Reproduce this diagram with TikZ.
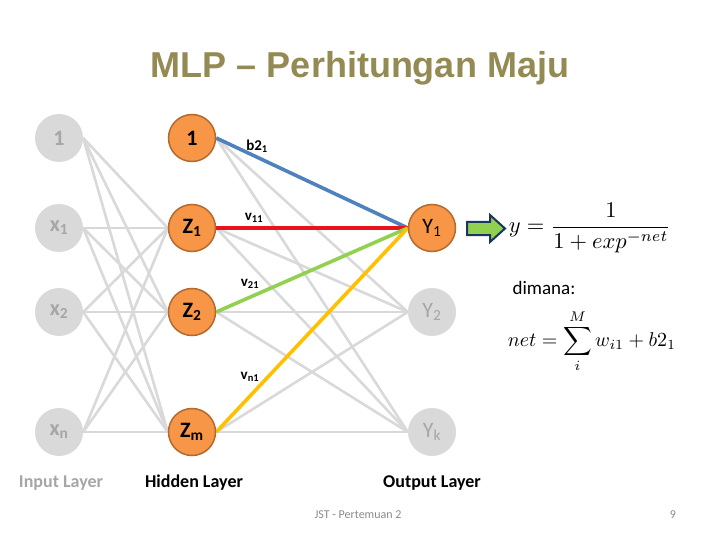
\documentclass[tikz,border=0pt]{standalone}
\usepackage{graphicx}
\usepackage{fontspec}
\setmainfont{Carlito}
\newfontfamily\arialfont{Liberation Sans}
\usetikzlibrary{backgrounds}
\definecolor{nodegray}{HTML}{D9D9D9}
\definecolor{txtgray}{HTML}{A6A6A6}
\definecolor{orng}{HTML}{F79646}
\definecolor{orngdark}{HTML}{B46A2E}
\definecolor{edgegray}{HTML}{D9D9D9}
\definecolor{eblue}{HTML}{4F81BD}
\definecolor{ered}{HTML}{E8141B}
\definecolor{egreen}{HTML}{92D050}
\definecolor{eyellow}{HTML}{FFC000}
\definecolor{titlecol}{HTML}{948A54}
\definecolor{navy}{HTML}{17375E}
\definecolor{footgray}{HTML}{898989}
\newcommand\sbs[1]{\textsubscript{#1}}
\begin{document}
\begin{tikzpicture}[x=1pt,y=-1pt,
  innode/.style={circle, fill=nodegray, minimum size=48pt, inner sep=0pt, text=txtgray, font=\fontsize{22}{24}\selectfont\bfseries},
  outgray/.style={circle, fill=nodegray, minimum size=48pt, inner sep=0pt, text=txtgray, font=\fontsize{22}{24}\selectfont},
  hidnode/.style={circle, fill=orng, draw=orngdark, line width=1.5pt, minimum size=47pt, inner sep=0pt, text=black, font=\fontsize{22}{24}\selectfont\bfseries},
  outorg/.style={circle, fill=orng, draw=orngdark, line width=1.5pt, minimum size=47pt, inner sep=0pt, text=black, font=\fontsize{22}{24}\selectfont},
  wline/.style={draw=edgegray, line width=2.6pt},
  cline/.style={line width=3.6pt},
  wlabel/.style={font=\fontsize{15}{17}\selectfont\bfseries, inner sep=0pt},
  layerlabel/.style={font=\fontsize{18}{20}\selectfont\bfseries, inner sep=0pt}]
\useasboundingbox (0,0) rectangle (720,540);
% title
\node[text=titlecol, font=\arialfont\fontsize{36}{40}\selectfont\bfseries] (title) at (360,68) {MLP – Perhitungan Maju};
% input layer
\node[innode] (i0) at (59,138) {1};
\node[innode] (i1) at (59,228) {x\sbs{1}};
\node[innode] (i2) at (59,312) {x\sbs{2}};
\node[innode] (in) at (59,432) {x\sbs{n}};
% hidden layer
\node[hidnode] (h0) at (192,138) {1};
\node[hidnode] (h1) at (192,228) {Z\sbs{1}};
\node[hidnode] (h2) at (192,312) {Z\sbs{2}};
\node[hidnode] (hm) at (192,432) {Z\sbs{m}};
% output layer
\node[outorg] (o1) at (432,228) {Y\sbs{1}};
\node[outgray] (o2) at (432,312) {Y\sbs{2}};
\node[outgray] (ok) at (432,432) {Y\sbs{k}};
\begin{scope}[on background layer]
  \foreach \s in {i0,i1,i2,in}{
    \foreach \t in {h1,h2,hm}{
      \draw[wline] (\s.east) -- (\t.west);
    }
  }
  \foreach \s in {h0,h1,h2,hm}{
    \foreach \t in {o2,ok}{
      \draw[wline] (\s.east) -- (\t.west);
    }
  }
  \draw[cline, draw=eblue] (h0.east) -- (o1.west);
  \draw[cline, draw=ered] (h1.east) -- (o1.west);
  \draw[cline, draw=egreen] (h2.east) -- (o1.west);
  \draw[cline, draw=eyellow] (hm.east) -- (o1.west);
\end{scope}
% weight labels
\node[wlabel] (lb) at (257,146) {b2\sbs{1}};
\node[wlabel] (l11) at (254,218) {v\sbs{11}};
\node[wlabel] (l21) at (250,284) {v\sbs{21}};
\node[wlabel] (ln1) at (250,377) {v\sbs{n1}};
% layer labels
\node[layerlabel, text=txtgray] (lin) at (61,483) {Input Layer};
\node[layerlabel] (lhid) at (194,483) {Hidden Layer};
\node[layerlabel] (lout) at (432,483) {Output Layer};
% arrow
\draw[fill=egreen, draw=navy, line width=2pt, line join=miter]
  (467,222) -- (490,222) -- (490,215) -- (505,228.5) -- (490,242) -- (490,235) -- (467,235) -- cycle;
% formulas
\node[inner sep=0pt] (f1) at (590,228) {\scalebox{2.25}{$\displaystyle y = \frac{1}{1+exp^{-net}}$}};
\node[font=\fontsize{19}{23}\selectfont, inner sep=0pt] (dim) at (544,288) {dimana:};
\node[inner sep=0pt] (f2) at (592,341) {\scalebox{2.0}{$\displaystyle net = \sum_{i}^{M} w_{i1} + b2_{1}$}};
% footer
\node[font=\fontsize{12}{14}\selectfont, text=footgray] (foot) at (358,515) {JST - Pertemuan 2};
\node[font=\fontsize{12}{14}\selectfont, text=footgray] (pg) at (673,515) {9};
\end{tikzpicture}
\end{document}
